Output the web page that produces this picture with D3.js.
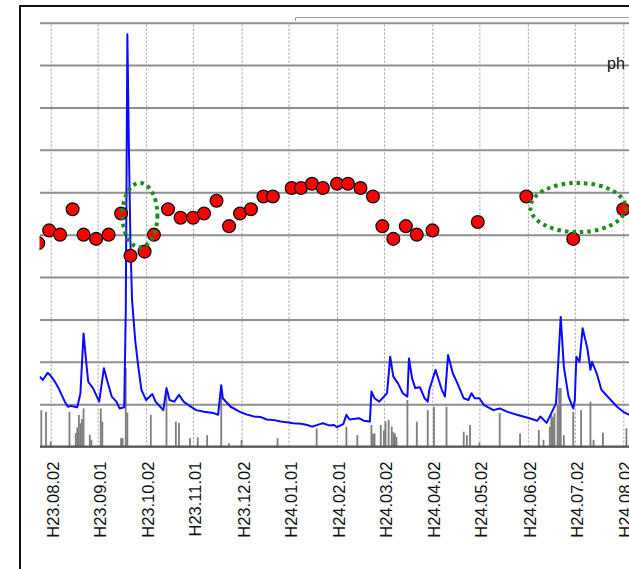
<!DOCTYPE html>
<html>
<head>
<meta charset="utf-8">
<script src="https://cdn.jsdelivr.net/npm/d3@7"></script>
<style>
  html, body { margin: 0; padding: 0; background: #fff; }
  svg { display: block; }
</style>
</head>
<body>
<svg id="chart" width="629" height="569"></svg>
<script>
// ---------------- DATA ----------------
const tickDates = ["2011-08-02","2011-09-01","2011-10-02","2011-11-01","2011-12-02","2012-01-01",
  "2012-02-01","2012-03-02","2012-04-02","2012-05-02","2012-06-02","2012-07-02","2012-08-02"];
const tickLabels = ["H23.08.02","H23.09.01","H23.10.02","H23.11.01","H23.12.02","H24.01.01",
  "H24.02.01","H24.03.02","H24.04.02","H24.05.02","H24.06.02","H24.07.02","H24.08.02"];

// pH (red dots)
const phDates = ["2011-07-25","2011-08-01","2011-08-08","2011-08-16","2011-08-23","2011-08-31",
  "2011-09-08","2011-09-16","2011-09-22","2011-10-01","2011-10-07","2011-10-16","2011-10-24",
  "2011-11-01","2011-11-08","2011-11-16","2011-11-24","2011-12-01","2011-12-08","2011-12-16",
  "2011-12-22","2012-01-03","2012-01-09","2012-01-16","2012-01-23","2012-02-01","2012-02-08",
  "2012-02-16","2012-02-24","2012-03-01","2012-03-08","2012-03-16","2012-03-23","2012-04-02",
  "2012-05-01","2012-06-01","2012-07-01","2012-08-02"];
const phValues = [6.40,6.55,6.50,6.80,6.50,6.45,
  6.50,6.75,6.25,6.30,6.50,6.80,6.70,
  6.70,6.75,6.90,6.60,6.75,6.80,6.95,
  6.95,7.05,7.05,7.10,7.05,7.10,7.10,
  7.05,6.95,6.60,6.45,6.60,6.50,6.55,
  6.65,6.95,6.45,6.80];

// flow (blue line)
const flowDates = ["2011-07-26","2011-07-28","2011-07-31","2011-08-02","2011-08-04","2011-08-07",
  "2011-08-11","2011-08-13","2011-08-15","2011-08-19","2011-08-21","2011-08-23","2011-08-25",
  "2011-08-26","2011-08-29","2011-09-02","2011-09-05","2011-09-07","2011-09-10","2011-09-13",
  "2011-09-15","2011-09-18","2011-09-19","2011-09-20","2011-09-21","2011-09-22","2011-09-23",
  "2011-09-25","2011-09-27","2011-09-29","2011-10-02","2011-10-06","2011-10-08","2011-10-13",
  "2011-10-15","2011-10-17","2011-10-20","2011-10-23","2011-10-26","2011-10-29","2011-11-03",
  "2011-11-08","2011-11-14","2011-11-17","2011-11-19","2011-11-20","2011-11-25","2011-12-01",
  "2011-12-05","2011-12-10","2011-12-14","2011-12-18","2011-12-22","2011-12-27","2012-01-01",
  "2012-01-04","2012-01-09","2012-01-13","2012-01-16","2012-01-21",
  "2012-01-23","2012-01-27","2012-01-30","2012-02-01","2012-02-05","2012-02-07","2012-02-09","2012-02-15",
  "2012-02-18","2012-02-22","2012-02-23","2012-02-25","2012-02-28","2012-03-02","2012-03-04",
  "2012-03-06","2012-03-08","2012-03-11","2012-03-14","2012-03-17","2012-03-18","2012-03-20",
  "2012-03-22","2012-03-25","2012-03-28","2012-03-30","2012-03-31","2012-04-04","2012-04-06",
  "2012-04-08","2012-04-10","2012-04-12","2012-04-15","2012-04-18","2012-04-22","2012-04-25",
  "2012-04-27","2012-04-29","2012-05-02","2012-05-05","2012-05-11","2012-05-15","2012-05-20",
  "2012-05-26","2012-06-03","2012-06-08","2012-06-10","2012-06-14","2012-06-17","2012-06-20",
  "2012-06-23","2012-06-25","2012-06-28","2012-07-01","2012-07-02","2012-07-03","2012-07-05",
  "2012-07-07","2012-07-10","2012-07-12","2012-07-13","2012-07-16","2012-07-19","2012-07-25",
  "2012-07-29","2012-08-02","2012-08-06"];
const flowValues = [16.5,15.7,17.4,16.7,15.7,13.8,
  10.6,9.4,9.6,9.3,12.6,26.7,18.8,
  15.3,13.8,10.6,18.5,15.7,11.8,10.6,
  9.0,9.3,32.2,97.3,70.0,47.6,34.6,
  25.1,18.8,13.4,11.0,12.4,10.6,8.6,
  13.8,11.0,10.6,12.2,10.6,9.8,8.6,
  8.2,7.9,7.5,14.5,11.4,9.4,8.2,
  7.6,7.1,7.0,6.4,6.3,5.9,5.7,
  5.5,5.4,5.1,4.7,5.3,
  5.5,5.0,5.1,4.6,5.3,7.5,6.4,6.7,
  6.1,5.9,13.0,11.4,10.6,11.8,12.6,
  21.2,16.5,14.9,12.6,11.8,20.8,16.1,
  13.8,14.0,11.4,10.6,13.4,18.1,15.7,
  13.4,11.8,21.6,17.3,14.9,11.4,11.0,
  12.6,11.4,11.4,9.8,8.6,9.0,8.2,
  7.5,6.7,6.1,7.1,5.6,7.9,10.2,
  30.6,18.8,11.8,9.0,11.0,21.2,20.0,
  27.9,23.2,18.1,20.0,17.3,13.4,11.0,
  9.4,8.2,7.5];

// rainfall (grey bars)
const rainDates = ["2011-07-27","2011-07-30","2011-08-02","2011-08-14","2011-08-18","2011-08-19","2011-08-20",
  "2011-08-21","2011-08-22","2011-08-23","2011-08-27","2011-08-28","2011-09-03","2011-09-04","2011-09-16",
  "2011-09-17","2011-09-19","2011-09-20",
  "2011-10-05","2011-10-15","2011-10-21","2011-10-23","2011-10-30","2011-11-04","2011-11-10",
  "2011-11-19","2011-11-24","2011-12-02","2011-12-25","2012-01-19","2012-02-07","2012-02-14",
  "2012-02-23","2012-02-24","2012-02-25","2012-02-29","2012-03-02","2012-03-03","2012-03-05","2012-03-07",
  "2012-03-08","2012-03-09",
  "2012-03-10","2012-03-17","2012-03-23","2012-03-30","2012-04-03","2012-04-11","2012-04-22",
  "2012-04-24","2012-04-26","2012-05-02","2012-05-15","2012-05-28","2012-06-09","2012-06-12",
  "2012-06-16","2012-06-17","2012-06-18","2012-06-19","2012-06-21","2012-06-22","2012-06-23","2012-06-25",
  "2012-07-01","2012-07-06","2012-07-12","2012-07-14","2012-07-20","2012-08-04"];
const rainValues = [8.6,8.2,1.2,8.2,3.2,4.5,7.5,
  5.5,6.5,9.0,2.8,1.6,9.0,5.9,2.0,
  2.0,18.5,8.0,
  7.5,12.6,5.9,5.6,2.0,2.2,2.7,
  14.5,0.8,1.6,2.0,4.3,4.7,2.7,
  5.1,3.0,3.1,5.1,3.8,5.9,6.3,4.7,
  3.4,3.1,
  2.3,11.0,5.9,8.6,9.4,9.4,3.5,
  2.7,5.1,0.9,7.9,3.1,3.9,1.6,
  4.7,7.5,7.0,7.9,9.8,13.8,13.8,2.7,
  8.2,8.6,10.6,1.6,3.3,4.3];

// highlighted groups (green dotted ellipses): centre date, centre pH, half-width days, half-height pH
const markDates = ["2011-09-28","2012-07-04"];
const markValues = [6.73, 6.82];
const markHalfDays = [11.2, 30.4];
const markHalfPH = [0.38, 0.29];

const sideLabel = "ph";

// ---------------- LAYOUT ----------------
const svg = d3.select("#chart");
const W = 629, H = 569;
const plotL = 40, plotR = 700, plotT = 22.7, plotB = 446.6;
const parse = d3.utcParse("%Y-%m-%d");

const x = d3.scaleUtc()
  .domain([parse("2011-08-02"), parse("2012-08-02")])
  .range([50.7, 623.3]);
const yPH = d3.scaleLinear().domain([4, 9]).range([plotB, plotT]);
const yFlow = d3.scaleLinear().domain([0, 100]).range([plotB, plotT]);
const yRain = d3.scaleLinear().domain([0, 100]).range([plotB, plotT]);

svg.append("rect").attr("width", W).attr("height", H).attr("fill", "#fff");

svg.append("defs").append("clipPath").attr("id", "plotclip")
  .append("rect").attr("x", plotL - 0.5).attr("y", plotT - 2)
  .attr("width", plotR - plotL).attr("height", plotB - plotT + 4);

// outer frame
svg.append("path")
  .attr("d", `M20,${H + 5} V6 H${W + 5}`)
  .attr("fill", "none").attr("stroke", "#111").attr("stroke-width", 2);

// legend box corner (cut off)
svg.append("path")
  .attr("d", `M295.5,21 V17.5 H${W + 5}`)
  .attr("fill", "none").attr("stroke", "#999").attr("stroke-width", 1);

// horizontal grid
const gy = svg.append("g")
  .attr("transform", `translate(${plotL},0)`)
  .call(d3.axisLeft(yPH).tickValues(d3.range(4, 9.01, 0.5)).tickSize(-(plotR - plotL)).tickFormat(""));
gy.select(".domain").remove();
gy.selectAll(".tick line").attr("stroke", "#8f8f8f").attr("stroke-width", 2);

// vertical dotted grid + labels
const tickD = tickDates.map(parse);
const gx = svg.append("g")
  .attr("transform", `translate(0,${plotB})`)
  .call(d3.axisBottom(x).tickValues(tickD).tickSize(-(plotB - plotT)).tickFormat((d, i) => tickLabels[i]));
gx.select(".domain").remove();
gx.selectAll(".tick line").attr("stroke", "#9a9a9a").attr("stroke-width", 1).attr("stroke-dasharray", "2,2");
gx.selectAll(".tick text")
  .attr("transform", "translate(0,15) rotate(-90)")
  .attr("x", 0).attr("y", 7.5).attr("dy", 0)
  .attr("text-anchor", "end")
  .attr("fill", "#111")
  .style("font-family", "'Liberation Sans', Arial, sans-serif")
  .style("font-size", "16.5px");

const plot = svg.append("g").attr("clip-path", "url(#plotclip)");

// rain bars
plot.append("g").selectAll("rect")
  .data(rainDates.map((d, i) => ({ d: parse(d), v: rainValues[i] })))
  .join("rect")
  .attr("x", d => x(d.d) - 0.9)
  .attr("width", 1.8)
  .attr("y", d => yRain(d.v))
  .attr("height", d => yRain(0) - yRain(d.v))
  .attr("fill", "#7d7d7d");

// bottom axis line
svg.append("line")
  .attr("x1", plotL).attr("x2", W + 5)
  .attr("y1", plotB).attr("y2", plotB)
  .attr("stroke", "#555").attr("stroke-width", 2);

// flow line
const flowData = flowDates.map((d, i) => ({ d: parse(d), v: flowValues[i] }));
plot.append("path")
  .datum(flowData)
  .attr("fill", "none")
  .attr("stroke", "#0a0aff")
  .attr("stroke-width", 2)
  .attr("stroke-linejoin", "round")
  .attr("d", d3.line().x(d => x(d.d)).y(d => yFlow(d.v)));

// pH dots
plot.append("g").selectAll("circle")
  .data(phDates.map((d, i) => ({ d: parse(d), v: phValues[i] })))
  .join("circle")
  .attr("cx", d => x(d.d))
  .attr("cy", d => yPH(d.v))
  .attr("r", 6.4)
  .attr("fill", "#ff0000")
  .attr("stroke", "#111")
  .attr("stroke-width", 1.3);

// ellipses
const dayMs = 86400000;
plot.append("g").selectAll("ellipse")
  .data(markDates.map((d, i) => ({ d: parse(d), v: markValues[i], hd: markHalfDays[i], hv: markHalfPH[i] })))
  .join("ellipse")
  .attr("cx", d => x(d.d))
  .attr("cy", d => yPH(d.v))
  .attr("rx", d => x(new Date(+d.d + d.hd * dayMs)) - x(d.d))
  .attr("ry", d => yPH(d.v - d.hv) - yPH(d.v))
  .attr("fill", "none")
  .attr("stroke", "#1f8a1f")
  .attr("stroke-width", 4)
  .attr("stroke-dasharray", "3.5,4");

// side label (cut off at edge)
svg.append("text")
  .attr("x", 607).attr("y", 68.5)
  .attr("fill", "#111")
  .style("font-family", "'Liberation Sans', Arial, sans-serif")
  .style("font-size", "16px")
  .text(sideLabel);
</script>
</body>
</html>
